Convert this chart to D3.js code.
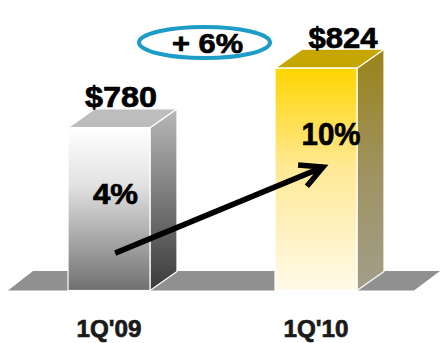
<!DOCTYPE html>
<html>
<head>
<meta charset="utf-8">
<script src="https://cdn.jsdelivr.net/npm/d3@7/dist/d3.min.js"></script>
<style>
  html, body { margin: 0; padding: 0; background: #fff; }
  svg { display: block; }
  text { font-family: "Liberation Sans", Arial, sans-serif; font-weight: bold; fill: #000; stroke: #000; stroke-width: 0.7; }
</style>
</head>
<body>
<svg id="chart" width="440" height="343"></svg>
<script>
// Quarterly revenue ($M) with year-over-year growth
const categories = ["1Q'09", "1Q'10"];
const revenue = [780, 824];
const valueLabels = ["$780", "$824"];
const growthLabels = ["4%", "10%"];
const changeLabel = "+ 6%";

// Layout
const W = 440, H = 343;
const floorY = 290.5;          // baseline where bars stand
const depthX = 27, depthY = 19; // 3D extrusion offset
const valueLabelDx = [12, 27];
const valueLabelSize = [30, 30];
const valueLabelLen = [72, 69];
const growthLabelDx = [6.5, 15];
const growthLabelSize = [29, 32];
const growthLabelLen = [45, 59];

const svg = d3.select("#chart");

const x = d3.scaleBand()
  .domain(categories)
  .range([26.6, 398.4])
  .paddingInner(0.604)
  .paddingOuter(0.2);

const y = d3.scaleLinear()
  .domain([660, 840])
  .range([floorY, 46.5]);

const bw = x.bandwidth();

// Gradients for each face
const defs = svg.append("defs");
function vGrad(id, stops) {
  const g = defs.append("linearGradient").attr("id", id)
    .attr("x1", 0).attr("y1", 0).attr("x2", 0).attr("y2", 1);
  stops.forEach(([o, c]) => g.append("stop").attr("offset", o).attr("stop-color", c));
}
vGrad("front0", [[0, "#ffffff"], [0.35, "#e2e2e2"], [1, "#707070"]]);
vGrad("side0", [[0, "#b8b8b8"], [1, "#3a3a3a"]]);
vGrad("front1", [[0, "#ffd500"], [0.45, "#ffe996"], [1, "#fffae8"]]);
vGrad("side1", [[0, "#9a8318"], [0.5, "#9f9260"], [1, "#a29e8a"]]);
const topColors = ["#bdbdbd", "#c6a600"];

// Floor slab
const x0 = 8, x1 = 414;
svg.append("path")
  .attr("d", `M${x0},${floorY} L${x0 + depthX - 2},${floorY - depthY - 0.5} L${x1 + depthX - 1},${floorY - depthY - 0.5} L${x1},${floorY} Z`)
  .attr("fill", "#909090");

// Bars
const bars = svg.selectAll("g.bar")
  .data(categories.map((c, i) => ({ c, v: revenue[i], i })))
  .enter().append("g").attr("class", "bar");

bars.append("path") // side face
  .attr("d", d => {
    const xr = x(d.c) + bw, yt = y(d.v);
    return `M${xr},${yt} L${xr + depthX},${yt - depthY} L${xr + depthX},${floorY - depthY} L${xr},${floorY} Z`;
  })
  .attr("fill", d => `url(#side${d.i})`)
  .attr("stroke", "#fff").attr("stroke-width", 1.2).attr("stroke-linejoin", "round");

bars.append("path") // top face
  .attr("d", d => {
    const xl = x(d.c), yt = y(d.v);
    return `M${xl},${yt} L${xl + depthX},${yt - depthY} L${xl + bw + depthX},${yt - depthY} L${xl + bw},${yt} Z`;
  })
  .attr("fill", d => topColors[d.i])
  .attr("stroke", "#fff").attr("stroke-width", 1.2).attr("stroke-linejoin", "round");

bars.append("rect") // front face
  .attr("x", d => x(d.c))
  .attr("y", d => y(d.v))
  .attr("width", bw)
  .attr("height", d => floorY - y(d.v))
  .attr("fill", d => `url(#front${d.i})`)
  .attr("stroke", "#fff").attr("stroke-width", 1.2);

// Growth percentages inside the bars
bars.append("text")
  .attr("x", d => x(d.c) + bw / 2 + growthLabelDx[d.i])
  .attr("y", d => y(d.v) + 76.5)
  .attr("text-anchor", "middle")
  .attr("font-size", d => growthLabelSize[d.i])
  .attr("textLength", d => growthLabelLen[d.i])
  .attr("lengthAdjust", "spacingAndGlyphs")
  .text(d => growthLabels[d.i]);

// Revenue labels above the bars
bars.append("text")
  .attr("x", d => x(d.c) + bw / 2 + valueLabelDx[d.i])
  .attr("y", d => y(d.v) - depthY - 1.5)
  .attr("text-anchor", "middle")
  .attr("font-size", d => valueLabelSize[d.i])
  .attr("textLength", d => valueLabelLen[d.i])
  .attr("lengthAdjust", "spacingAndGlyphs")
  .text(d => valueLabels[d.i]);

// Category labels
bars.append("text")
  .attr("x", d => x(d.c) + bw / 2)
  .attr("y", 337)
  .attr("text-anchor", "middle")
  .attr("font-size", 24)
  .attr("textLength", 65)
  .attr("lengthAdjust", "spacingAndGlyphs")
  .style("fill", "#1a1a1a")
  .style("stroke", "#1a1a1a")
  .text(d => d.c);

// Growth arrow between the bars
const h0 = floorY - y(revenue[0]), h1 = floorY - y(revenue[1]);
const ax0 = x(categories[0]) + bw * 0.575, ay0 = floorY - h0 * 0.23;
const ax1 = x(categories[1]) + bw * 0.585, ay1 = floorY - h1 * 0.555;
const ang = Math.atan2(ay1 - ay0, ax1 - ax0);
const headLen = 25, spread = 0.48;
const hA = [ax1 - headLen * Math.cos(ang - spread), ay1 - headLen * Math.sin(ang - spread)];
const hB = [ax1 - headLen * Math.cos(ang + spread), ay1 - headLen * Math.sin(ang + spread)];
svg.append("path")
  .attr("d", `M${ax0},${ay0} L${ax1},${ay1} M${hA[0]},${hA[1]} L${ax1},${ay1} L${hB[0]},${hB[1]}`)
  .attr("fill", "none")
  .attr("stroke", "#000")
  .attr("stroke-width", 5.5)
  .attr("stroke-linejoin", "miter")
  .attr("stroke-linecap", "butt");

// Overall change callout
svg.append("ellipse")
  .attr("cx", 204.5).attr("cy", 42.5)
  .attr("rx", 65.5).attr("ry", 15.5)
  .attr("fill", "#fff")
  .attr("stroke", "#1c9cc6")
  .attr("stroke-width", 4);
svg.append("text")
  .attr("x", 207.5).attr("y", 53)
  .attr("text-anchor", "middle")
  .attr("font-size", 27)
  .attr("textLength", 71)
  .attr("lengthAdjust", "spacingAndGlyphs")
  .text(changeLabel);
</script>
</body>
</html>
